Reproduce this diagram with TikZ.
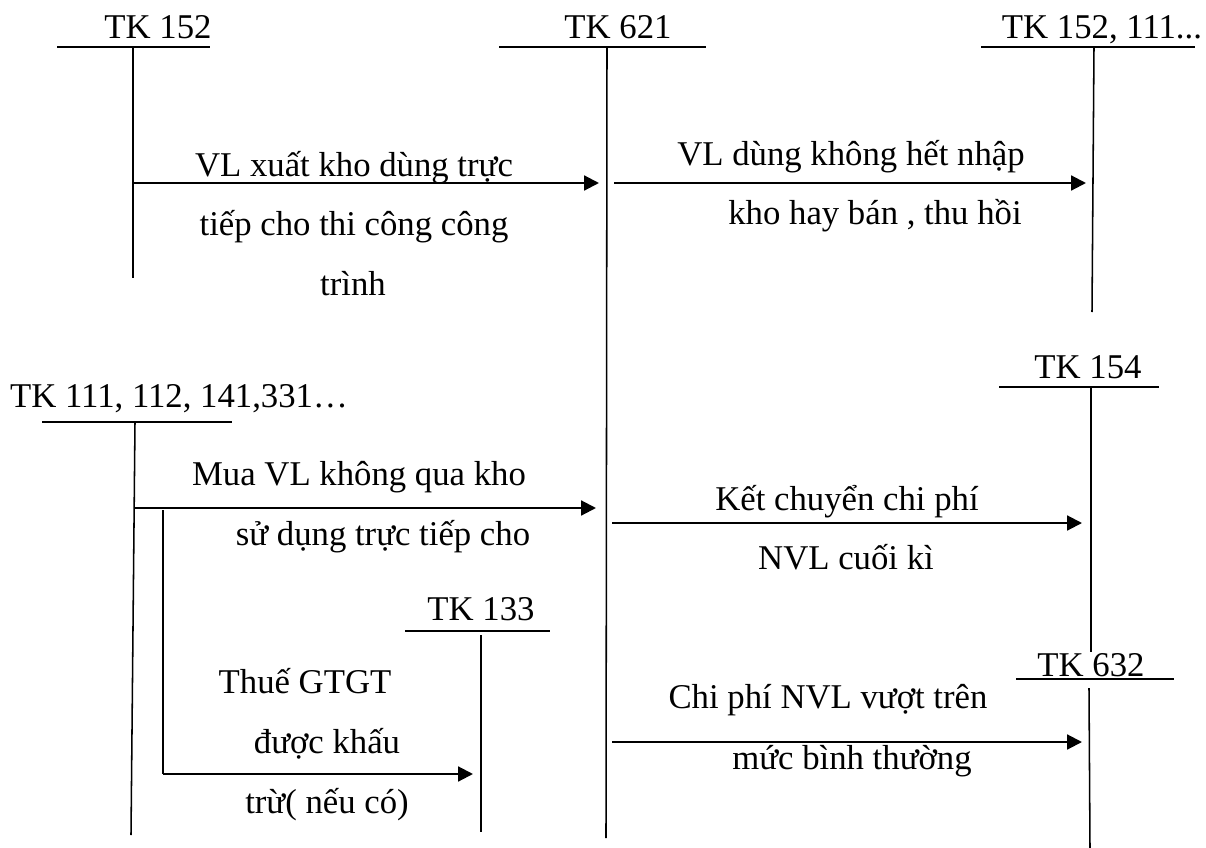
\documentclass[tikz,border=0pt]{standalone}
\usepackage{fontspec}
\setmainfont{Liberation Serif}
\usetikzlibrary{arrows.meta}

\begin{document}
\begin{tikzpicture}[x=0.025cm, y=-0.025cm,
  txt/.style={anchor=base, inner sep=0pt, font=\fontsize{24.7}{29}\selectfont},
  bar/.style={line width=1.6pt},
  acc/.style={line width=1.1pt},
  flow/.style={line width=1.5pt, -{Triangle[length=10.5pt, width=10.5pt]}}]
  \useasboundingbox (0,0) rectangle (1206,848);

  % account titles
  \node[txt] (t152)  at (158,38)   {TK 152};
  \node[txt] (t621)  at (618,38)   {TK 621};
  \node[txt] (t152b) at (1102,38)  {TK 152, 111...};
  \node[txt] (t111)  at (179,407)  {TK 111, 112, 141,331…};
  \node[txt] (t154)  at (1088,378) {TK 154};
  \node[txt] (t133)  at (481,620)  {TK 133};
  \node[txt] (t632)  at (1091,676) {TK 632};

  % T accounts
  \draw[bar] (57,47) -- (210,47);     \draw[acc] (133,47) -- (133,278);
  \draw[bar] (499,47) -- (706,47);    \draw[acc] (607,47) -- (606,838);
  \draw[bar] (981,47) -- (1195,47);   \draw[acc] (1094,47) -- (1092,312);
  \draw[bar] (42,422) -- (232,422);   \draw[acc] (135,422) -- (131,835);
  \draw[bar] (999,387) -- (1159,387); \draw[acc] (1091,387) -- (1091,652);
  \draw[bar] (405,631) -- (550,631);  \draw[acc] (481,635) -- (481,832);
  \draw[bar] (1016,679) -- (1174,679);\draw[acc] (1089,688) -- (1090,848);
  \draw[acc] (163,510) -- (163,774);

  \coordinate (a1) at (133,183);  \coordinate (b1) at (599,183);
  \coordinate (a2) at (614,183);  \coordinate (b2) at (1086,183);
  \coordinate (a3) at (134,508);  \coordinate (b3) at (596,508);
  \coordinate (a4) at (612,523);  \coordinate (b4) at (1082,523);
  \coordinate (a5) at (163,774);  \coordinate (b5) at (473,774);
  \coordinate (a6) at (612,742);  \coordinate (b6) at (1082,742);
  \path[flow]
  (a1) edge (b1)
  (a2) edge (b2)
  (a3) edge (b3)
  (a4) edge (b4)
  (a5) edge (b5)
  (a6) edge (b6)
  ;

  % entries
  \node[txt] (l1a) at (354,176) {VL xuất kho dùng trực};
  \node[txt] (l1b) at (354,235) {tiếp cho thi công công};
  \node[txt] (l1c) at (353,295) {trình};
  \node[txt] (l2a) at (851,165) {VL dùng không hết nhập};
  \node[txt] (l2b) at (875,224) {kho hay bán , thu hồi};
  \node[txt] (l3a) at (359,485) {Mua VL không qua kho};
  \node[txt] (l3b) at (383,545) {sử dụng trực tiếp cho};
  \node[txt] (l4a) at (847,510) {Kết chuyển chi phí};
  \node[txt] (l4b) at (846,569) {NVL cuối kì};
  \node[txt] (l5a) at (305,693) {Thuế GTGT};
  \node[txt] (l5b) at (327,753) {được khấu};
  \node[txt] (l5c) at (327,813) {trừ( nếu có)};
  \node[txt] (l6a) at (828,708) {Chi phí NVL vượt trên};
  \node[txt] (l6b) at (852,769) {mức bình thường};
\end{tikzpicture}
\end{document}
